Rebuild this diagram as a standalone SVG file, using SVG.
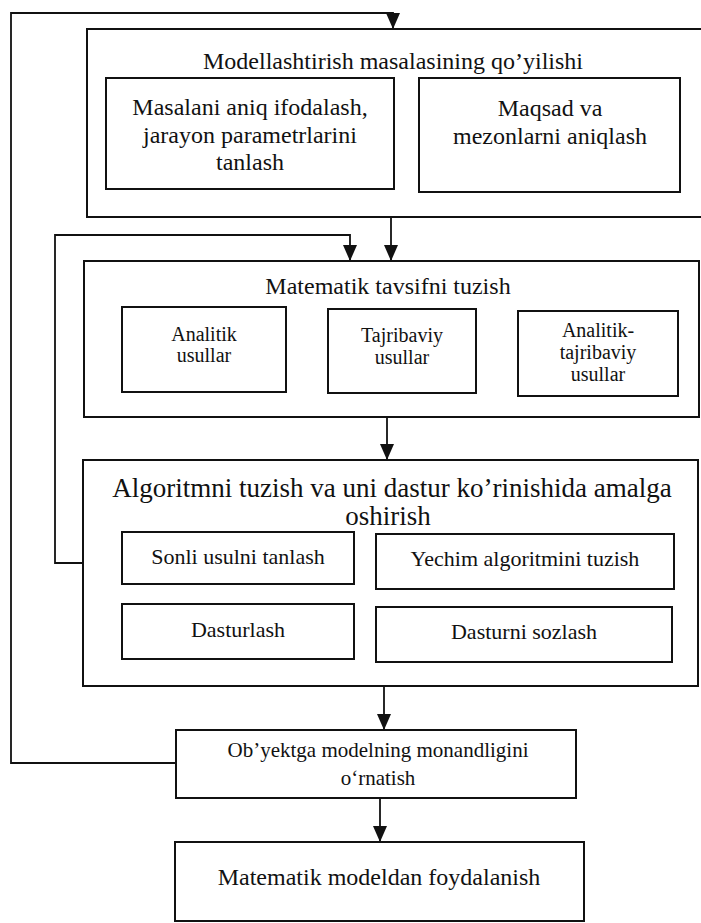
<svg xmlns="http://www.w3.org/2000/svg" width="701" height="923" viewBox="0 0 701 923">
  <style>
    .box { fill: none; stroke: #111; stroke-width: 2; }
    .sub { fill: none; stroke: #111; stroke-width: 2; }
    .wire { fill: none; stroke: #111; stroke-width: 1.8; }
    text { font-family: "Liberation Serif", "Times New Roman", serif; fill: #111; text-anchor: middle; }
    .t24 { font-size: 24px; }
    .t27 { font-size: 27px; }
    .t22 { font-size: 22px; }
    .t21 { font-size: 21px; }
    .t20 { font-size: 20px; }
  </style>
  <defs>
    <!-- solid downward arrowhead used on every connector -->
    <marker id="arrow" viewBox="0 0 16 14" refX="16" refY="7" markerWidth="16" markerHeight="14" markerUnits="userSpaceOnUse" orient="auto">
      <path d="M0,0 L16,7 L0,14 Z" fill="#111"/>
    </marker>
  </defs>
  <rect width="701" height="923" fill="#fff"/>

  <!-- Connectors -->
  <g id="connectors">
    <!-- outer feedback loop: adequacy check back to problem statement -->
    <polyline class="wire" points="176,763 11,763 11,13 393,13 393,29" marker-end="url(#arrow)"/>
    <!-- inner feedback loop: algorithm back to mathematical description -->
    <polyline class="wire" points="83,563 55,563 55,235 350,235 350,261" marker-end="url(#arrow)"/>
    <line class="wire" x1="391" y1="217" x2="391" y2="261" marker-end="url(#arrow)"/>
    <line class="wire" x1="387" y1="417" x2="387" y2="460" marker-end="url(#arrow)"/>
    <line class="wire" x1="384" y1="686" x2="384" y2="730" marker-end="url(#arrow)"/>
    <line class="wire" x1="380" y1="798" x2="380" y2="842" marker-end="url(#arrow)"/>
  </g>

  <!-- Stage 1 -->
  <g id="stage1">
    <rect class="box" x="87" y="29" width="616" height="188"/>
    <text class="t24" x="393" y="69">Modellashtirish masalasining qo’yilishi</text>
  </g>
  <g id="stage1-a">
    <rect class="sub" x="106" y="78" width="288" height="111"/>
    <text class="t24" x="250" y="115">Masalani aniq ifodalash,</text>
    <text class="t24" x="250" y="143">jarayon parametrlarini</text>
    <text class="t24" x="250" y="170">tanlash</text>
  </g>
  <g id="stage1-b">
    <rect class="sub" x="419" y="78" width="261" height="114"/>
    <text class="t24" x="550" y="116">Maqsad va</text>
    <text class="t24" x="550" y="144">mezonlarni aniqlash</text>
  </g>

  <!-- Stage 2 -->
  <g id="stage2">
    <rect class="box" x="84" y="261" width="615" height="156"/>
    <text class="t24" x="388" y="294">Matematik tavsifni tuzish</text>
  </g>
  <g id="stage2-a">
    <rect class="sub" x="122" y="307" width="164" height="85"/>
    <text class="t20" x="204" y="341">Analitik</text>
    <text class="t20" x="204" y="362">usullar</text>
  </g>
  <g id="stage2-b">
    <rect class="sub" x="328" y="309" width="148" height="84"/>
    <text class="t20" x="402" y="342">Tajribaviy</text>
    <text class="t20" x="402" y="364">usullar</text>
  </g>
  <g id="stage2-c">
    <rect class="sub" x="518" y="311" width="160" height="85"/>
    <text class="t20" x="598" y="337">Analitik-</text>
    <text class="t20" x="598" y="359">tajribaviy</text>
    <text class="t20" x="598" y="381">usullar</text>
  </g>

  <!-- Stage 3 -->
  <g id="stage3">
    <rect class="box" x="83" y="460" width="615" height="226"/>
    <text class="t27" x="392" y="497">Algoritmni tuzish va uni dastur ko’rinishida amalga</text>
    <text class="t27" x="388" y="525">oshirish</text>
  </g>
  <g id="stage3-a">
    <rect class="sub" x="122" y="532" width="232" height="52"/>
    <text class="t22" x="238" y="564">Sonli usulni tanlash</text>
  </g>
  <g id="stage3-b">
    <rect class="sub" x="376" y="534" width="298" height="55"/>
    <text class="t22" x="525" y="566">Yechim algoritmini tuzish</text>
  </g>
  <g id="stage3-c">
    <rect class="sub" x="122" y="604" width="232" height="55"/>
    <text class="t22" x="238" y="637">Dasturlash</text>
  </g>
  <g id="stage3-d">
    <rect class="sub" x="376" y="607" width="296" height="55"/>
    <text class="t22" x="524" y="639">Dasturni sozlash</text>
  </g>

  <!-- Stage 4 -->
  <g id="stage4">
    <rect class="box" x="176" y="730" width="400" height="68"/>
    <text class="t21" x="378" y="757">Ob’yektga modelning monandligini</text>
    <text class="t21" x="378" y="785">o‘rnatish</text>
  </g>

  <!-- Stage 5 -->
  <g id="stage5">
    <rect class="box" x="175" y="842" width="409" height="79"/>
    <text class="t24" x="379" y="885">Matematik modeldan foydalanish</text>
  </g>
</svg>
